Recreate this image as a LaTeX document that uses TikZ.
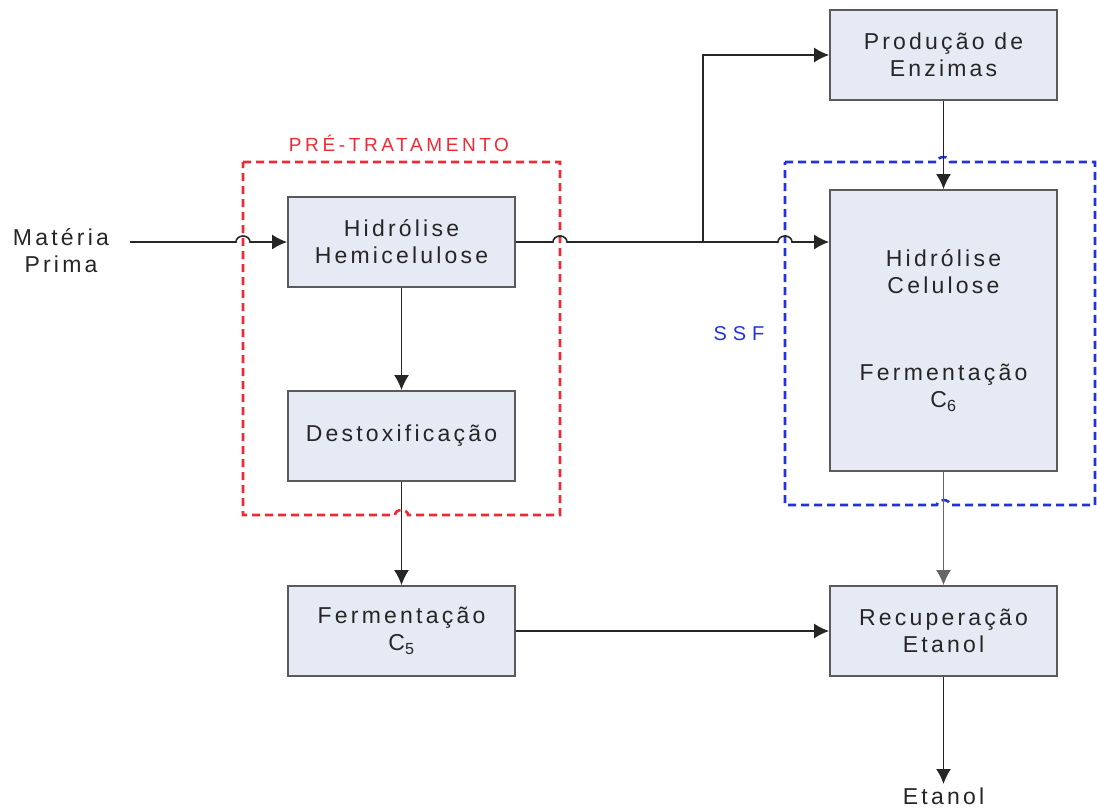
\documentclass[tikz,border=0pt]{standalone}
\usepackage{fontspec}
\setmainfont[LetterSpace=14]{Liberation Sans}
\usetikzlibrary{calc, arrows.meta}

\definecolor{caixa}{HTML}{E6EAF4}
\definecolor{borda}{HTML}{5A5A5A}
\definecolor{vermelho}{HTML}{EE2A36}
\definecolor{azul}{HTML}{2233DD}

\begin{document}
\begin{tikzpicture}[x=1pt, y=1pt,
        >={Latex[length=15pt,width=15pt]},
        bloco/.style={draw=borda, line width=1.8pt, fill=caixa, minimum width=227pt,
            minimum height=90pt, align=center, text=black!85,
            font=\fontsize{23}{27}\selectfont},
        seta/.style={->, line width=1.6pt, draw=black!85},
        rotulo/.style={align=center, text=black!85, font=\fontsize{23}{27}\selectfont}]
            \path[use as bounding box] (0,0) rectangle (1097,-809);

            % blocos
            \node[bloco] (hemi) at (401.5,-242) {Hidrólise\\Hemicelulose};
            \node[bloco] (destox) at (401.5,-436) {Destoxificação};
            \node[bloco] (fermcinco) at (401.5,-631) {Fermentação\\C\textsubscript{5}};
            \node[bloco] (enzimas) at (943.5,-55) {Produção de\\Enzimas};
            \node[bloco, minimum height=281pt] (ssf) at (943.5,-330.5) {};
            \node[rotulo] at (943.5,-272) {Hidrólise\\Celulose};
            \node[rotulo] at (943.5,-388) {Fermentação\\C\textsubscript{6}};
            \node[bloco] (recup) at (943.5,-631) {Recuperação\\Etanol};

            % textos soltos
            \node[rotulo] (materia) at (61,-251) {Matéria\\Prima};
            \node[rotulo, anchor=north] (etanol) at (943.5,-784) {Etanol};
            \node[text=vermelho, font=\fontsize{19}{22}\selectfont\addfontfeatures{LetterSpace=19}] (pretrat) at (399,-143) {PRÉ-TRATAMENTO};
            \node[text=azul, font=\fontsize{20}{24}\selectfont\addfontfeatures{LetterSpace=30}] (ssflabel) at (739,-334) {SSF};

            % pre-tratamento (tracejado vermelho)
            \draw[vermelho, line width=2.6pt, dash pattern=on 8pt off 5pt]
            (243,-162) -- (560,-162) -- (560,-515) -- (408,-515)
            arc [start angle=0, end angle=180, x radius=6.5, y radius=5] -- (243,-515) -- cycle;

            % SSF (tracejado azul)
            \draw[azul, line width=2.6pt, dash pattern=on 8pt off 5pt]
            (785,-162) -- (937,-162) arc [start angle=180, end angle=0, x radius=6.5, y radius=5]
            -- (1095,-162) -- (1095,-505) -- (950,-505)
            arc [start angle=0, end angle=180, x radius=6.5, y radius=5] -- (785,-505) -- cycle;

            % conectores
            \coordinate (inicio) at (130,-242);
            \coordinate (ramo) at (703,-242);
            \draw[seta] (inicio) -- (236,-242) arc [start angle=180, end angle=0, x radius=7, y radius=6]
            -- (hemi.west);
            \draw[seta] (hemi.east) -- (553,-242) arc [start angle=180, end angle=0, x radius=7, y radius=6]
            -- (778,-242) arc [start angle=180, end angle=0, x radius=7, y radius=6] -- (ssf.west |- hemi.east);
            \draw[seta] (ramo) |- (enzimas.west);
            \draw[seta] (hemi) -- (destox);
            \draw[seta] (destox) -- (fermcinco);
            \draw[seta] (enzimas) -- (ssf);
            \draw[seta, draw=black!60] (ssf) -- (recup);
            \draw[seta] (fermcinco) -- (recup);
            \draw[seta] (recup) -- (etanol);
        \end{tikzpicture}
\end{document}
